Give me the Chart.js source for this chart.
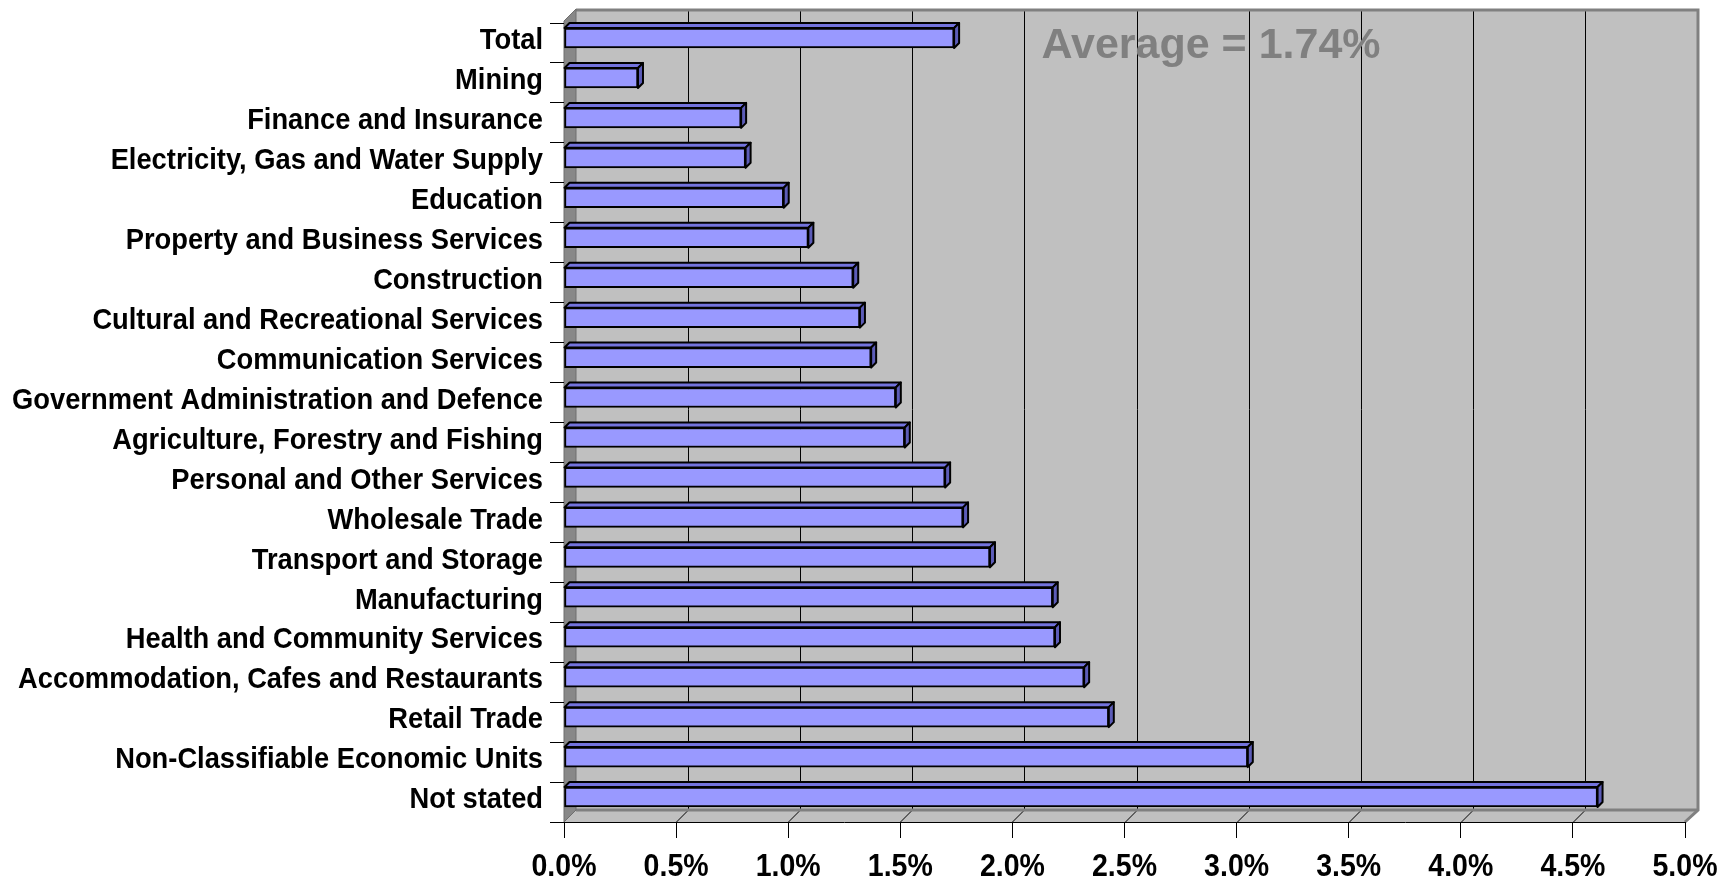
<!DOCTYPE html>
<html>
<head>
<meta charset="utf-8">
<script src="https://cdn.jsdelivr.net/npm/chart.js@4.4.0/dist/chart.umd.min.js"></script>
<style>
  html, body { margin: 0; padding: 0; background: #fff; }
  #wrap { width: 1736px; height: 884px; }
</style>
</head>
<body>
<div id="wrap"><canvas id="chart" width="1736" height="884"></canvas></div>
<script>
// industries, top to bottom as in the picture
const industries = [
  'Total',
  'Mining',
  'Finance and Insurance',
  'Electricity, Gas and Water Supply',
  'Education',
  'Property and Business Services',
  'Construction',
  'Cultural and Recreational Services',
  'Communication Services',
  'Government Administration and Defence',
  'Agriculture, Forestry and Fishing',
  'Personal and Other Services',
  'Wholesale Trade',
  'Transport and Storage',
  'Manufacturing',
  'Health and Community Services',
  'Accommodation, Cafes and Restaurants',
  'Retail Trade',
  'Non-Classifiable Economic Units',
  'Not stated'
];

// percent
const rates = [
  1.74, 0.33, 0.79, 0.81, 0.98, 1.09, 1.29, 1.32, 1.37, 1.48,
  1.52, 1.70, 1.78, 1.90, 2.18, 2.19, 2.32, 2.43, 3.05, 4.61
];

const xMin = 0;
const xMax = 5;
const xStep = 0.5;
const averageText = 'Average = 1.74%';

const DEPTH = 12;      // wall depth offset
const BAR_DEPTH = 5;   // bar top/side face
const BAR_SHIFT = -5;

// no narrow font installed, so squeeze Liberation Sans Bold by hand
const labelFont = "bold 30px 'Liberation Sans', Arial, sans-serif";
const tickFont = "bold 31px 'Liberation Sans', Arial, sans-serif";

function squeezedText(ctx, text, x, y, align, k) {
  ctx.save();
  ctx.translate(x, y);
  ctx.scale(k, 1);
  ctx.textAlign = align;
  ctx.fillText(text, 0, 0);
  ctx.restore();
}

// walls, floor and back gridlines (the fake 3d box)
const boxPlugin = {
  id: 'box3d',
  beforeDraw(chart) {
    const { ctx, chartArea: a, scales } = chart;
    const d = DEPTH;
    const wallTop = a.top - d - 2;
    ctx.save();
    // back wall
    ctx.fillStyle = '#c0c0c0';
    ctx.fillRect(a.left + d, wallTop, a.right - a.left, a.bottom - d - wallTop);
    // floor
    ctx.beginPath();
    ctx.moveTo(a.left, a.bottom);
    ctx.lineTo(a.right, a.bottom);
    ctx.lineTo(a.right + d, a.bottom - d);
    ctx.lineTo(a.left + d, a.bottom - d);
    ctx.closePath();
    ctx.fill();
    // gridlines on the wall and the floor
    ctx.strokeStyle = '#000';
    ctx.lineWidth = 1;
    for (let v = xMin + xStep; v < xMax; v += xStep) {
      const px = Math.round(scales.x.getPixelForValue(v)) + 0.5;
      ctx.beginPath();
      ctx.moveTo(px + d, wallTop);
      ctx.lineTo(px + d, a.bottom - d);
      ctx.stroke();
      ctx.beginPath();
      ctx.moveTo(px, a.bottom);
      ctx.lineTo(px + d, a.bottom - d);
      ctx.stroke();
    }
    // wall borders
    ctx.strokeStyle = '#808080';
    ctx.lineWidth = 3;
    ctx.beginPath();
    ctx.moveTo(a.left + d, wallTop + 1);
    ctx.lineTo(a.right + d + 1, wallTop + 1);
    ctx.lineTo(a.right + d + 1, a.bottom - d);
    ctx.lineTo(a.right, a.bottom);
    ctx.stroke();
    ctx.beginPath();
    ctx.moveTo(a.left + d, a.bottom - d);
    ctx.lineTo(a.right + d, a.bottom - d);
    ctx.stroke();
    // left wall
    ctx.fillStyle = '#888888';
    ctx.beginPath();
    ctx.moveTo(a.left, a.top - 2);
    ctx.lineTo(a.left + d, wallTop);
    ctx.lineTo(a.left + d, a.bottom - d);
    ctx.lineTo(a.left, a.bottom);
    ctx.closePath();
    ctx.fill();
    ctx.strokeStyle = '#6e6e6e';
    ctx.lineWidth = 1;
    ctx.stroke();
    // annotation
    ctx.fillStyle = '#808080';
    ctx.font = "bold 43px 'Liberation Sans', Arial, sans-serif";
    ctx.textAlign = 'left';
    ctx.textBaseline = 'middle';
    ctx.fillText(averageText, scales.x.getPixelForValue(2.13), a.top + 23);
    ctx.restore();
  },
  beforeDatasetsDraw(chart) {
    chart.ctx.save();
    chart.ctx.translate(0, BAR_SHIFT);
  },
  afterDatasetsDraw(chart) {
    const ctx = chart.ctx;
    const b = BAR_DEPTH;
    chart.getDatasetMeta(0).data.forEach(bar => {
      const { x, y, base, height } = bar.getProps(['x', 'y', 'base', 'height'], true);
      const top = y - height / 2;
      const bot = y + height / 2;
      ctx.lineWidth = 2;
      ctx.lineJoin = 'round';
      ctx.strokeStyle = '#000';
      // top face
      ctx.fillStyle = '#7373dd';
      ctx.beginPath();
      ctx.moveTo(base, top);
      ctx.lineTo(base + b, top - b);
      ctx.lineTo(x + b, top - b);
      ctx.lineTo(x, top);
      ctx.closePath();
      ctx.fill();
      ctx.stroke();
      // side face
      ctx.fillStyle = '#5c5cb8';
      ctx.beginPath();
      ctx.moveTo(x, top);
      ctx.lineTo(x + b, top - b);
      ctx.lineTo(x + b, bot - b);
      ctx.lineTo(x, bot);
      ctx.closePath();
      ctx.fill();
      ctx.stroke();
    });
    ctx.restore();
  },
  afterDraw(chart) {
    const { ctx, chartArea: a, scales } = chart;
    ctx.save();
    ctx.fillStyle = '#000';
    ctx.textBaseline = 'middle';
    // category labels
    ctx.font = labelFont;
    scales.y.ticks.forEach((t, i) => {
      const y = scales.y.getPixelForTick(i) - 2;
      squeezedText(ctx, industries[t.value], a.left - 21, y, 'right', 0.91);
    });
    // value labels
    ctx.font = tickFont;
    scales.x.ticks.forEach(t => {
      squeezedText(ctx, t.value.toFixed(1) + '%', scales.x.getPixelForValue(t.value), a.bottom + 45, 'center', 0.92);
    });
    ctx.restore();
  }
};

new Chart(document.getElementById('chart'), {
  type: 'bar',
  data: {
    labels: industries,
    datasets: [{
      data: rates,
      backgroundColor: '#9999ff',
      borderColor: '#000',
      borderWidth: 2,
      borderSkipped: false,
      barThickness: 20,
      clip: false
    }]
  },
  options: {
    indexAxis: 'y',
    responsive: false,
    animation: false,
    layout: { padding: { left: 0, top: 23, right: 51, bottom: 0 } },
    plugins: {
      legend: { display: false },
      tooltip: { enabled: false }
    },
    scales: {
      x: {
        min: xMin,
        max: xMax,
        afterFit: s => { s.height = 62; },
        grid: { drawOnChartArea: false, drawTicks: true, tickLength: 16, color: '#000' },
        border: { display: true, color: '#000', width: 1 },
        ticks: { stepSize: xStep, display: false }
      },
      y: {
        afterFit: s => { s.width = 564; },
        grid: { drawOnChartArea: false, drawTicks: true, tickLength: 14, color: '#000', offset: true },
        border: { display: false },
        ticks: { autoSkip: false, display: false }
      }
    }
  },
  plugins: [boxPlugin]
});
</script>
</body>
</html>
